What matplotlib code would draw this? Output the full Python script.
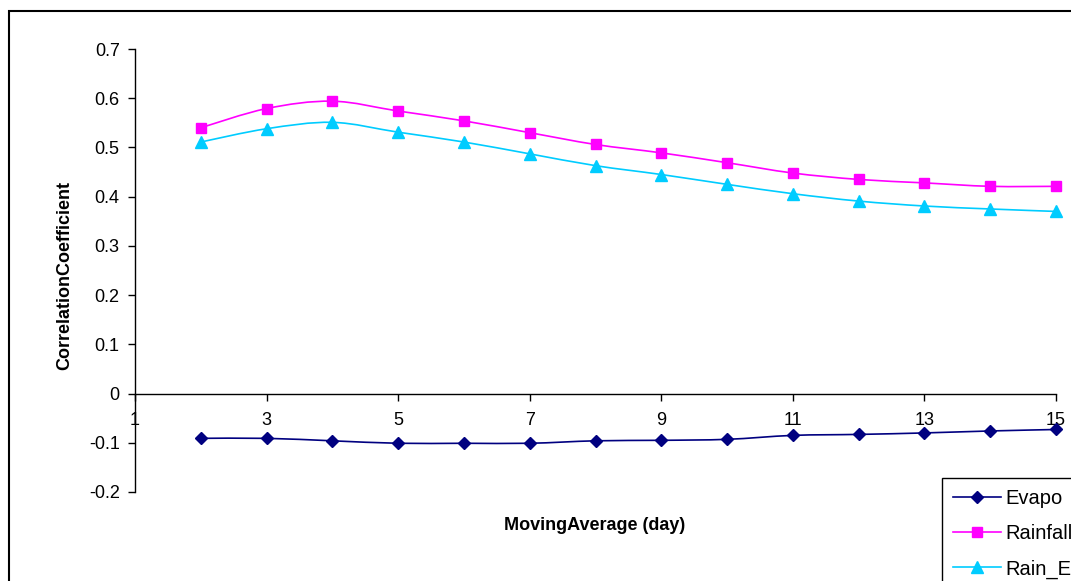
import matplotlib
matplotlib.use("Agg")
import matplotlib.pyplot as plt
from matplotlib.path import Path
from matplotlib.patches import PathPatch, Rectangle
from matplotlib.lines import Line2D
import numpy as np

plt.rcParams['font.family'] = ['Liberation Sans', 'DejaVu Sans']

# moving average window (days)
days = [2, 3, 4, 5, 6, 7, 8, 9, 10, 11, 12, 13, 14, 15]
evapo = [-0.091, -0.091, -0.096, -0.101, -0.101, -0.101, -0.096, -0.095, -0.093,
         -0.085, -0.083, -0.080, -0.076, -0.073]
rainfall = [0.540, 0.579, 0.594, 0.574, 0.554, 0.530, 0.506, 0.489, 0.469,
            0.448, 0.435, 0.428, 0.421, 0.421]
rain_e = [0.511, 0.538, 0.551, 0.531, 0.511, 0.487, 0.463, 0.445, 0.425,
          0.406, 0.391, 0.381, 0.375, 0.370]

series_names = ['Evapo', 'Rainfall', 'Rain_Evapo']
colors = ['#000080', '#FF00FF', '#00CCFF']
markers = ['D', 's', '^']
msizes = [6.5, 7.2, 8.2]
y_ticks = [-0.2, -0.1, 0, 0.1, 0.2, 0.3, 0.4, 0.5, 0.6, 0.7]
y_ticklabels = ['-0.2', '-0.1', '0', '0.1', '0.2', '0.3', '0.4', '0.5', '0.6', '0.7']
x_ticks = [1, 3, 5, 7, 9, 11, 13, 15]


def smooth_path(x, y):
    # excel-ish smoothed line: cubic bezier through the points
    x = np.asarray(x, float)
    y = np.asarray(y, float)
    pts = np.column_stack([x, y])
    verts = [pts[0]]
    codes = [Path.MOVETO]
    n = len(pts)
    for i in range(n - 1):
        p0 = pts[i - 1] if i > 0 else pts[i]
        p1 = pts[i]
        p2 = pts[i + 1]
        p3 = pts[i + 2] if i + 2 < n else pts[i + 1]
        c1 = p1 + (p2 - p0) / 6.0
        c2 = p2 - (p3 - p1) / 6.0
        verts += [c1, c2, p2]
        codes += [Path.CURVE4] * 3
    return Path(verts, codes)


W, H = 1071, 581
fig = plt.figure(figsize=(W / 100, H / 100), dpi=100)
ax = fig.add_axes([135 / W, 1 - 492 / H, (1056 - 135) / W, (492 - 49) / H])

for vals, c, m, ms in zip([evapo, rainfall, rain_e], colors, markers, msizes):
    patch = PathPatch(smooth_path(days, vals), facecolor='none', edgecolor=c,
                      lw=1.2, clip_on=False)
    ax.add_patch(patch)
    ax.plot(days, vals, linestyle='none', marker=m, color=c, markersize=ms,
            clip_on=False, zorder=3)

ax.set_xlim(1, 15)
ax.set_ylim(-0.2, 0.7)
ax.set_xticks(x_ticks)
ax.set_xticklabels([str(t) for t in x_ticks])
ax.set_yticks(y_ticks)
ax.set_yticklabels(y_ticklabels)

ax.spines['top'].set_visible(False)
ax.spines['right'].set_visible(False)
ax.spines['bottom'].set_position(('data', 0))
ax.spines['left'].set_linewidth(1.0)
ax.spines['bottom'].set_linewidth(1.0)
ax.tick_params(axis='y', direction='out', length=5, width=1.0, pad=6, labelsize=13)
ax.tick_params(axis='x', direction='out', length=5, width=1.0, pad=8, labelsize=13)

fig.text(65 / W, 1 - 275 / H, 'CorrelationCoefficient', rotation=90,
         ha='center', va='center', fontsize=13, fontweight='bold')
fig.text(595 / W, 1 - 525 / H, 'MovingAverage (day)',
         ha='center', va='center', fontsize=13, fontweight='bold')

# outer chart border (cropped at right/bottom)
fig.patches.append(Rectangle((8.5 / W, -0.2), 1.2, 1.2 - 11 / H,
                             transform=fig.transFigure, fill=False,
                             edgecolor='black', lw=1.5))

handles = [Line2D([], [], color=c, marker=m, markersize=ms, lw=1.2)
           for c, m, ms in zip(colors, markers, msizes)]
leg = fig.legend(handles, series_names, loc='upper left',
                 bbox_to_anchor=(942 / W, 1 - 478 / H), fontsize=14.5,
                 frameon=True, fancybox=False, framealpha=1, edgecolor='black',
                 borderaxespad=0, borderpad=0.55, handlelength=2.4,
                 handletextpad=0.2, labelspacing=0.8)
leg.get_frame().set_linewidth(1.0)

fig.savefig('out.png', dpi=100)
